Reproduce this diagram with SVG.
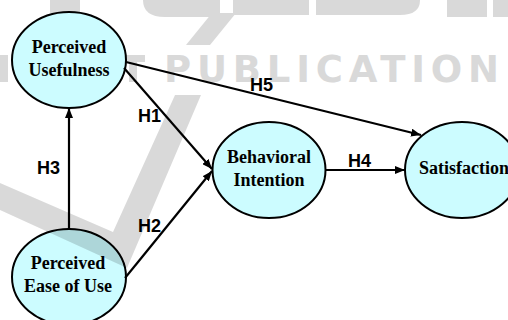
<svg xmlns="http://www.w3.org/2000/svg" width="508" height="320" viewBox="0 0 508 320">
<style>
.wm{fill:#d9d9d9}
.wmt{font-family:"DejaVu Sans",sans-serif;font-weight:bold;font-size:37px;fill:#d9d9d9;letter-spacing:5.8px}
.node ellipse{fill:#ccfcff;stroke:#000;stroke-width:2}
.node text{font-family:"Liberation Serif","Times New Roman",serif;font-weight:bold;font-size:18px;fill:#000;text-anchor:middle}
.conn line{stroke:#000;stroke-width:2.2;fill:none;marker-end:url(#arr)}
.lbl{font-family:"Liberation Sans",Arial,sans-serif;font-weight:bold;font-size:18px;fill:#000}
</style>
<defs>
<marker id="arr" markerUnits="userSpaceOnUse" markerWidth="10" markerHeight="8" refX="10" refY="4" orient="auto">
<path d="M0,0 L10,4 L0,8 z" fill="#000"/>
</marker>
</defs>
<rect width="508" height="320" fill="#fff"/>
<g id="watermark">
<rect class="wm" x="50" y="0" width="30" height="13"/>
<path class="wm" d="M143,0 H220 V17 H165 Q143,17 143,0 z"/>
<rect class="wm" x="233" y="0" width="76" height="15"/>
<path class="wm" d="M316,0 H420 Q420,15 400,15 H316 z"/>
<rect class="wm" x="447" y="0" width="40" height="17"/>
<rect class="wm" x="493" y="0" width="15" height="17"/>
<polygon class="wm" points="212,13 236,13 210,45 186,45"/>
<path class="wm" d="M0,55 H8 V82 H0 z"/>
<path class="wm" d="M110,55 H145 V62 H137 V82 H129 V62 H110 z"/>
<text class="wmt" x="164" y="82">PUBLICATION</text>
</g>
<g id="pu" class="node">
<ellipse cx="69" cy="60" rx="57" ry="48"/>
<text x="69" y="53">Perceived</text>
<text x="69" y="76">Usefulness</text>
</g>
<g id="peou" class="node">
<ellipse cx="69" cy="277" rx="57" ry="48"/>
<text x="68" y="269">Perceived</text>
<text x="68" y="292">Ease of Use</text>
</g>
<g id="bi" class="node">
<ellipse cx="269" cy="170" rx="56.5" ry="48"/>
<text x="269" y="163">Behavioral</text>
<text x="269" y="186">Intention</text>
</g>
<g id="sat" class="node">
<ellipse cx="462" cy="170" rx="57" ry="48"/>
<text x="464" y="174">Satisfaction</text>
</g>
<polygon points="0,183 113,232 175,95 201,95 127,268 0,210" fill="#000" fill-opacity="0.15"/>
<g id="connectors" class="conn">
<line x1="69" y1="229" x2="69" y2="108"/>
<line x1="124" y1="68" x2="212" y2="169"/>
<line x1="125" y1="278" x2="212" y2="171"/>
<line x1="126" y1="62" x2="421" y2="135"/>
<line x1="325.5" y1="170" x2="405" y2="170"/>
</g>
<g id="labels">
<text class="lbl" x="138" y="122">H1</text>
<text class="lbl" x="37" y="174">H3</text>
<text class="lbl" x="138" y="232">H2</text>
<text class="lbl" x="250" y="91">H5</text>
<text class="lbl" x="348" y="167">H4</text>
</g>
</svg>
